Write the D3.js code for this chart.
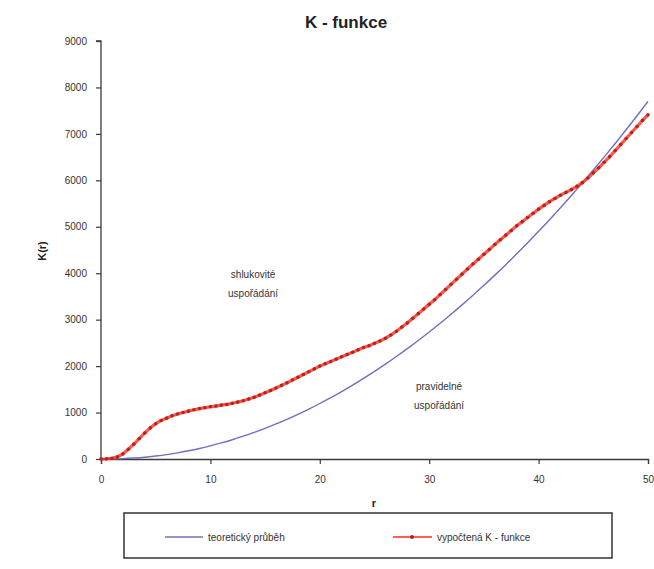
<!DOCTYPE html>
<html>
<head>
<meta charset="utf-8">
<script src="https://cdn.jsdelivr.net/npm/d3@7"></script>
<style>
  html, body { margin: 0; padding: 0; background: #fff; }
  svg { display: block; font-family: Arial, "Liberation Sans", sans-serif; }
</style>
</head>
<body>
<svg id="chart" width="654" height="569"></svg>
<script>
// Distances r for the theoretical curve (step 1)
const rTheory = d3.range(0, 51);
// Theoretical K(r) for a random (Poisson) pattern
const kTheory = [0, 1, 7, 20, 38, 64, 95, 133, 177, 227, 284, 346, 415, 491, 573, 661, 755, 855, 962, 1075,
  1195, 1320, 1452, 1590, 1735, 1886, 2043, 2206, 2376, 2552, 2734, 2922, 3117, 3318, 3526, 3739, 3959, 4185,
  4418, 4657, 4902, 5153, 5411, 5675, 5945, 6221, 6504, 6793, 7088, 7390, 7698];

// Distances r for the computed K-function (step 0.5)
const rComputed = d3.range(0, 101).map(i => i / 2);
// Computed K-function of the observed pattern
const kComputed = [0, 5, 15, 45, 110, 210, 320, 440, 560, 670, 760, 830, 880, 930, 970, 1000, 1030, 1060, 1085, 1105,
  1125, 1140, 1160, 1175, 1200, 1225, 1255, 1290, 1330, 1375, 1425, 1475, 1530, 1585, 1640, 1700, 1760, 1820, 1880, 1940,
  2000, 2050, 2100, 2150, 2200, 2250, 2300, 2350, 2400, 2440, 2490, 2540, 2600, 2670, 2750, 2840, 2930, 3030, 3130, 3230,
  3330, 3430, 3540, 3650, 3760, 3870, 3980, 4090, 4200, 4300, 4410, 4510, 4620, 4720, 4820, 4920, 5020, 5110, 5200, 5290,
  5380, 5460, 5540, 5610, 5680, 5740, 5800, 5870, 5950, 6050, 6160, 6270, 6390, 6510, 6640, 6770, 6900, 7030, 7160, 7290,
  7410];

const xTicks = [0, 10, 20, 30, 40, 50];
const yTicks = [0, 1000, 2000, 3000, 4000, 5000, 6000, 7000, 8000, 9000];

const titleText = "K - funkce";
const xLabel = "r";
const yLabel = "K(r)";
const seriesNames = ["teoretický průběh", "vypočtená K - funkce"];
const notes = [
  { lines: ["shlukovité", "uspořádání"], r: 13.9, k: 3900 },
  { lines: ["pravidelné", "uspořádání"], r: 30.9, k: 1480 }
];

const svg = d3.select("#chart");
const plotLeft = 101, plotRight = 648, plotTop = 41, plotBottom = 459;

const x = d3.scaleLinear().domain([0, 50]).range([plotLeft, plotRight]);
const y = d3.scaleLinear().domain([0, 9000]).range([plotBottom, plotTop]);

const axisColor = "#3a3a3a";
const blue = "#6f6fc0";
const red = "#ff2a1e";
const dotColor = "#b8231a";

// Title
svg.append("text")
  .attr("x", 346).attr("y", 28)
  .attr("text-anchor", "middle")
  .attr("font-size", 17).attr("font-weight", "bold")
  .attr("fill", "#222")
  .text(titleText);

// Axes
const gx = svg.append("g").attr("transform", `translate(0,${plotBottom})`)
  .call(d3.axisBottom(x).tickValues(xTicks).tickFormat(d3.format("d")).tickSize(5).tickPadding(12));
const gy = svg.append("g").attr("transform", `translate(${plotLeft},0)`)
  .call(d3.axisLeft(y).tickValues(yTicks).tickFormat(d3.format("d")).tickSize(5).tickPadding(9));
[gx, gy].forEach(g => {
  g.select(".domain").attr("stroke", axisColor).attr("stroke-width", 1.3);
  g.selectAll(".tick line").attr("stroke", axisColor).attr("stroke-width", 1.2);
  g.selectAll(".tick text").attr("fill", "#333").attr("font-size", 10)
    .attr("font-family", "Arial, 'Liberation Sans', sans-serif");
});
gy.select(".domain").attr("d", `M-5,${plotTop}H0V${plotBottom}`);

// Axis titles
svg.append("text")
  .attr("x", 374).attr("y", 507)
  .attr("text-anchor", "middle")
  .attr("font-size", 11).attr("font-weight", "bold").attr("fill", "#222")
  .text(xLabel);
svg.append("text")
  .attr("transform", "translate(46,251) rotate(-90)")
  .attr("text-anchor", "middle")
  .attr("font-size", 11).attr("font-weight", "bold").attr("fill", "#222")
  .text(yLabel);

// Theoretical curve
const theoryPts = rTheory.map((r, i) => [r, kTheory[i]]);
svg.append("path")
  .datum(theoryPts)
  .attr("fill", "none")
  .attr("stroke", blue)
  .attr("stroke-width", 1.4)
  .attr("d", d3.line().x(d => x(d[0])).y(d => y(d[1])).curve(d3.curveMonotoneX));

// Computed K-function: line with markers
const compPts = rComputed.map((r, i) => [r, kComputed[i]]);
svg.append("path")
  .datum(compPts)
  .attr("fill", "none")
  .attr("stroke", red)
  .attr("stroke-width", 3.2)
  .attr("stroke-opacity", 0.8)
  .attr("d", d3.line().x(d => x(d[0])).y(d => y(d[1])));
svg.append("g").selectAll("circle")
  .data(compPts)
  .join("circle")
  .attr("cx", d => x(d[0]))
  .attr("cy", d => y(d[1]))
  .attr("r", 1.8)
  .attr("fill", dotColor);

// Annotations in the plot
notes.forEach(n => {
  const t = svg.append("text")
    .attr("x", x(n.r)).attr("y", y(n.k))
    .attr("text-anchor", "middle")
    .attr("font-size", 10).attr("fill", "#333");
  n.lines.forEach((ln, i) => {
    t.append("tspan").attr("x", x(n.r)).attr("dy", i === 0 ? 0 : 19).text(ln);
  });
});

// Legend
const lg = svg.append("g");
lg.append("rect")
  .attr("x", 124).attr("y", 513).attr("width", 488).attr("height", 45)
  .attr("fill", "#fff").attr("stroke", "#333").attr("stroke-width", 1.5);
lg.append("line")
  .attr("x1", 165).attr("x2", 203).attr("y1", 537).attr("y2", 537)
  .attr("stroke", blue).attr("stroke-width", 1.4);
lg.append("text")
  .attr("x", 208).attr("y", 541)
  .attr("font-size", 10).attr("fill", "#333")
  .text(seriesNames[0]);
lg.append("line")
  .attr("x1", 393).attr("x2", 432).attr("y1", 537).attr("y2", 537)
  .attr("stroke", red).attr("stroke-width", 1.4);
lg.append("circle")
  .attr("cx", 412).attr("cy", 537).attr("r", 2)
  .attr("fill", dotColor);
lg.append("text")
  .attr("x", 437).attr("y", 541)
  .attr("font-size", 10).attr("fill", "#333")
  .text(seriesNames[1]);
</script>
</body>
</html>
